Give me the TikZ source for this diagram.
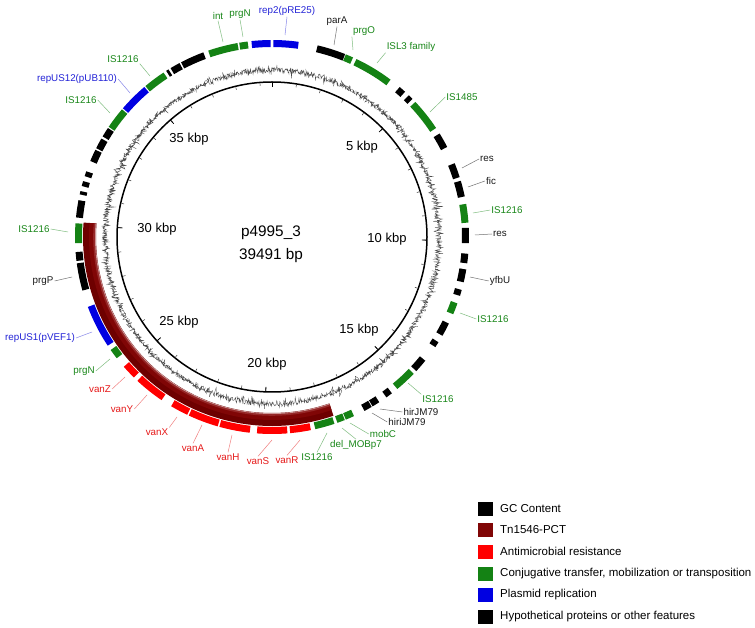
\documentclass[tikz,border=0pt]{standalone}
\usepackage{fontspec}
\setmainfont{Liberation Sans}
\definecolor{fgreen}{RGB}{20,130,20}
\definecolor{fblue}{RGB}{0,0,225}
\definecolor{fred}{RGB}{255,0,0}
\definecolor{fblack}{RGB}{0,0,0}
\definecolor{tnA}{RGB}{110,0,0}
\definecolor{tnB}{RGB}{128,6,6}
\definecolor{tnC}{RGB}{150,40,40}
\definecolor{tnD}{RGB}{205,150,150}
\definecolor{lgreen}{RGB}{25,135,25}
\definecolor{lblue}{RGB}{35,35,215}
\definecolor{lred}{RGB}{230,25,25}
\definecolor{lblack}{RGB}{25,25,25}
\newcommand{\feat}[3]{\draw[line width=7pt,#3] ({90-(#1)}:193.5pt) arc[start angle={90-(#1)},end angle={90-(#2)},radius=193.5pt];}
\newcommand{\tnarc}[3]{\draw[line width=#2,#3] ({90-161}:#1) arc[start angle={90-161},end angle={90-274.4},radius=#1];}
\begin{document}
\begin{tikzpicture}[x=1pt,y=1pt,
  lab/.style={inner sep=1pt,font=\fontsize{9.8}{11}\selectfont},
  gl/.style={lab,text=lgreen}, bl/.style={lab,text=lblue},
  rl/.style={lab,text=lred}, kl/.style={lab,text=lblack},
  gline/.style={draw=lgreen!55,line width=0.5pt},
  bline/.style={draw=lblue!55,line width=0.5pt},
  rline/.style={draw=lred!55,line width=0.5pt},
  kline/.style={draw=black!55,line width=0.5pt},
  kbp/.style={font=\fontsize{13}{15}\selectfont},
  ctr/.style={font=\fontsize{15.3}{17}\selectfont},
  legsq/.style={minimum width=15pt,minimum height=14pt,inner sep=0pt},
  legtxt/.style={anchor=west,inner sep=0pt,font=\fontsize{11.5}{13}\selectfont}]
\useasboundingbox (0,0) rectangle (755,627);
\fill[white] (0,0) rectangle (755,627);
\coordinate (C) at (272,390);
\begin{scope}[shift={(C)}]
  % GC content
  \pgfmathsetseed{4995}
  \draw[line width=0.35pt,black!70] plot[samples=2600,domain=0:360] ({90-\x}:{167+2.4*(2*rnd-1)+6.5*(2*rnd-1)*(2*rnd-1)*(2*rnd-1)});
  % backbone circle and ticks
  \draw[line width=1.5pt] (0,0) circle[radius=155pt];
  \foreach \k in {0,...,39} \draw[line width=0.5pt,black!80] ({90-\k*360/39.491}:154pt) -- ({90-\k*360/39.491}:151.5pt);
  \foreach \k in {0,5,...,35} \draw[line width=0.8pt] ({90-\k*360/39.491}:155pt) -- ({90-\k*360/39.491}:150pt);
  % Tn1546 band
  \tnarc{182.5pt}{13pt}{tnA}
  \tnarc{180pt}{6pt}{tnB}
  \tnarc{177.8pt}{2pt}{tnC}
  \tnarc{176.6pt}{0.8pt}{tnD}
  % features
  \feat{-6}{-0.4}{fblue}
  \feat{0.4}{7.8}{fblue}
  \feat{13.4}{21.8}{fblack}
  \feat{22}{24.3}{fgreen}
  \feat{25.4}{37}{fgreen}
  \feat{40.4}{42.5}{fblack}
  \feat{44}{45.5}{fblack}
  \feat{46.7}{56.4}{fgreen}
  \feat{58.3}{62.8}{fblack}
  \feat{68}{72.3}{fblack}
  \feat{73.4}{78.1}{fblack}
  \feat{80.3}{85.8}{fgreen}
  \feat{87.3}{91.8}{fblack}
  \feat{94.9}{97.7}{fblack}
  \feat{99.5}{103.3}{fblack}
  \feat{105.6}{107.4}{fblack}
  \feat{109.7}{113.1}{fgreen}
  \feat{116.1}{120.1}{fblack}
  \feat{122.3}{124}{fblack}
  \feat{128.9}{132.9}{fblack}
  \feat{134}{140.5}{fgreen}
  \feat{142.5}{144.5}{fblack}
  \feat{147}{149.3}{fblack}
  \feat{149.6}{152}{fblack}
  \feat{155.4}{158}{fgreen}
  \feat{158.3}{160.6}{fgreen}
  \feat{161.5}{167.3}{fgreen}
  \feat{168.6}{174.7}{fred}
  \feat{175.5}{184.4}{fred}
  \feat{186.5}{195.5}{fred}
  \feat{196}{205}{fred}
  \feat{205.5}{210.8}{fred}
  \feat{214.1}{223.1}{fred}
  \feat{224.5}{228.8}{fred}
  \feat{232}{235}{fgreen}
  \feat{236.5}{249.2}{fblue}
  \feat{254.2}{262.3}{fblack}
  \feat{263}{265.6}{fblack}
  \feat{268.2}{274}{fgreen}
  \feat{275.7}{280.8}{fblack}
  \feat{282.5}{283.5}{fblack}
  \feat{285}{286.5}{fblack}
  \feat{288}{289.5}{fblack}
  \feat{292.7}{296.3}{fblack}
  \feat{296.8}{300}{fblack}
  \feat{300.7}{303.6}{fblack}
  \feat{304}{310.4}{fgreen}
  \feat{310.8}{319.6}{fblue}
  \feat{320}{326.6}{fgreen}
  \feat{327.5}{328.3}{fblack}
  \feat{329}{332}{fblack}
  \feat{332.5}{339.6}{fblack}
  \feat{341.1}{349.9}{fgreen}
  \feat{350.4}{352.9}{fgreen}
\end{scope}
% centre and scale labels
\node[ctr] (title) at (271,394) {p4995\_3};
\node[ctr] (size) at (271,371) {39491 bp};
\node[kbp] (k5) at (362,480) {5 kbp};
\node[kbp] (k10) at (387,388) {10 kbp};
\node[kbp] (k15) at (359,297) {15 kbp};
\node[kbp] (k20) at (267,263) {20 kbp};
\node[kbp] (k25) at (179,305) {25 kbp};
\node[kbp] (k30) at (157,398) {30 kbp};
\node[kbp] (k35) at (189,488) {35 kbp};
% feature labels with leaders
\node[gl] (l1) at (218,611) {int};            \coordinate (e1) at (223,585); \draw[gline] (l1.south) -- (e1);
\node[gl] (l2) at (240,613) {prgN};           \coordinate (e2) at (243,590); \draw[gline] (l2.south) -- (e2);
\node[bl] (l3) at (287,616) {rep2(pRE25)};    \coordinate (e3) at (285,592); \draw[bline] (l3.south) -- (e3);
\node[kl] (l4) at (337,606) {parA};           \coordinate (e4) at (334,582); \draw[kline] (l4.south) -- (e4);
\node[gl] (l5) at (364,596) {prgO};           \coordinate (e5) at (353,577); \draw[gline] (l5.south west) -- (e5);
\node[gl] (l6) at (411,580) {ISL3 family};    \coordinate (e6) at (377,564); \draw[gline] (l6.south west) -- (e6);
\node[gl] (l7) at (462,530) {IS1485};         \coordinate (e7) at (430,515); \draw[gline] (l7.west) -- (e7);
\node[kl] (l8) at (487,468) {res};            \coordinate (e8) at (462,459); \draw[kline] (l8.west) -- (e8);
\node[kl] (l9) at (491,446) {fic};            \coordinate (e9) at (468,440); \draw[kline] (l9.west) -- (e9);
\node[gl] (l10) at (507,417) {IS1216};        \coordinate (e10) at (473,414); \draw[gline] (l10.west) -- (e10);
\node[kl] (l11) at (500,393) {res};           \coordinate (e11) at (475,392); \draw[kline] (l11.west) -- (e11);
\node[kl] (l12) at (500,346) {yfbU};          \coordinate (e12) at (470,350); \draw[kline] (l12.west) -- (e12);
\node[gl] (l13) at (493,308) {IS1216};        \coordinate (e13) at (460,314); \draw[gline] (l13.west) -- (e13);
\node[gl] (l14) at (438,228) {IS1216};        \coordinate (e14) at (408,244); \draw[gline] (l14.north west) -- (e14);
\node[kl] (l15) at (421,215) {hirJM79};       \coordinate (e15) at (380,218); \draw[kline] (l15.west) -- (e15);
\node[kl] (l16) at (407,205) {hiriJM79};      \coordinate (e16) at (372,214); \draw[kline] (l16.west) -- (e16);
\node[gl] (l17) at (383,193) {mobC};          \coordinate (e17) at (350,204); \draw[gline] (l17.west) -- (e17);
\node[gl] (l18) at (356,182) {del\_MOBp7};    \coordinate (e18) at (342,199); \draw[gline] (l18.north) -- (e18);
\node[gl] (l19) at (317,170) {IS1216};        \coordinate (e19) at (327,194); \draw[gline] (l19.north) -- (e19);
\node[rl] (l20) at (287,167) {vanR};          \coordinate (e20) at (300,187); \draw[rline] (l20.north) -- (e20);
\node[rl] (l21) at (258,166) {vanS};          \coordinate (e21) at (272,187); \draw[rline] (l21.north) -- (e21);
\node[rl] (l22) at (228,170) {vanH};          \coordinate (e22) at (232,192); \draw[rline] (l22.north) -- (e22);
\node[rl] (l23) at (193,179) {vanA};          \coordinate (e23) at (202,202); \draw[rline] (l23.north) -- (e23);
\node[rl] (l24) at (157,195) {vanX};          \coordinate (e24) at (177,210); \draw[rline] (l24.north east) -- (e24);
\node[rl] (l25) at (122,218) {vanY};          \coordinate (e25) at (147,232); \draw[rline] (l25.east) -- (e25);
\node[rl] (l26) at (100,238) {vanZ};          \coordinate (e26) at (125,250); \draw[rline] (l26.east) -- (e26);
\node[gl] (l27) at (84,256) {prgN};           \coordinate (e27) at (110,268); \draw[gline] (l27.east) -- (e27);
\node[bl] (l28) at (40,289) {repUS1(pVEF1)};  \coordinate (e28) at (92,295); \draw[bline] (l28.east) -- (e28);
\node[kl] (l29) at (43,346) {prgP};           \coordinate (e29) at (72,350); \draw[kline] (l29.east) -- (e29);
\node[gl] (l30) at (34,398) {IS1216};         \coordinate (e30) at (68,395); \draw[gline] (l30.east) -- (e30);
\node[gl] (l31) at (81,527) {IS1216};         \coordinate (e31) at (110,514); \draw[gline] (l31.east) -- (e31);
\node[bl] (l32) at (77,548) {repUS12(pUB110)}; \coordinate (e32) at (130,534); \draw[bline] (l32.east) -- (e32);
\node[gl] (l33) at (123,568) {IS1216};        \coordinate (e33) at (150,551); \draw[gline] (l33.south east) -- (e33);
% legend
\node[legsq,fill=black] (s1) at (485.5,118.5) {}; \node[legtxt] (t1) at (500,118.5) {GC Content};
\node[legsq,fill=tnB]   (s2) at (485.5,97)    {}; \node[legtxt] (t2) at (500,97)    {Tn1546-PCT};
\node[legsq,fill=fred]  (s3) at (485.5,75.5)  {}; \node[legtxt] (t3) at (500,75.5)  {Antimicrobial resistance};
\node[legsq,fill=fgreen](s4) at (485.5,53.5)  {}; \node[legtxt] (t4) at (500,53.5)  {Conjugative transfer, mobilization or transposition};
\node[legsq,fill=fblue] (s5) at (485.5,32)    {}; \node[legtxt] (t5) at (500,32)    {Plasmid replication};
\node[legsq,fill=black] (s6) at (485.5,10.5)  {}; \node[legtxt] (t6) at (500,10.5)  {Hypothetical proteins or other features};
\end{tikzpicture}
\end{document}
